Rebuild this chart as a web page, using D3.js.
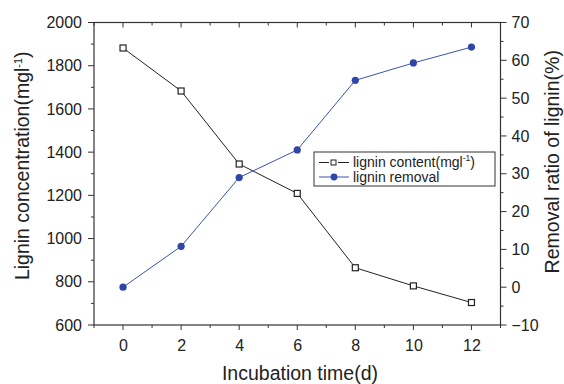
<!DOCTYPE html>
<html lang="en">
  <head>
    <meta charset="UTF-8" />
    <title>Lignin degradation</title>
    <script src="https://d3js.org/d3.v7.min.js"></script>
    <style>
      body {
        margin: 0;
        background: #fff;
        font-family: "Liberation Sans", Arial, sans-serif;
      }
      .axis text {
        font-size: 16px;
        fill: #222;
      }
      .title {
        font-size: 19.5px;
        fill: #222;
      }
      .legend text {
        font-size: 14px;
        fill: #222;
      }
    </style>
  </head>
  <body>
    <svg width="564" height="384"></svg>

    <script>
      const days = [0, 2, 4, 6, 8, 10, 12];
      const ligninContent = [1882, 1683, 1345, 1209, 865, 781, 704];
      const ligninRemoval = [0, 10.8, 29, 36.3, 54.7, 59.3, 63.5];
      const leftTicks = [600, 800, 1000, 1200, 1400, 1600, 1800, 2000];
      const rightTicks = [-10, 0, 10, 20, 30, 40, 50, 60, 70];

      const svg = d3.select("svg");
      const margin = { left: 94, right: 63.5, top: 22.5, bottom: 59 };
      const width = +svg.attr("width");
      const height = +svg.attr("height");

      const x = d3.scaleLinear().domain([-1, 13]).range([margin.left, width - margin.right]);
      const yL = d3.scaleLinear().domain([600, 2000]).range([height - margin.bottom, margin.top]);
      const yR = d3.scaleLinear().domain([-10, 70]).range([height - margin.bottom, margin.top]);

      const x0 = margin.left, x1 = width - margin.right;
      const y0 = height - margin.bottom, y1 = margin.top;

      // tick marks: majors longer, minors shorter
      const minorX = d3.range(-1, 14, 1);
      const minorL = d3.range(600, 2001, 100);
      const minorR = d3.range(-10, 71, 5);

      const g = svg.append("g").attr("stroke", "#333");
      g.selectAll(".mxb").data(minorX).enter().append("line")
        .attr("x1", (d) => x(d)).attr("x2", (d) => x(d))
        .attr("y1", y0).attr("y2", (d) => y0 + (d % 2 === 0 ? 5 : 3));
      g.selectAll(".mxt").data(minorX).enter().append("line")
        .attr("x1", (d) => x(d)).attr("x2", (d) => x(d))
        .attr("y1", y1).attr("y2", (d) => y1 + (d % 2 === 0 ? 5 : 3));
      g.selectAll(".myl").data(minorL).enter().append("line")
        .attr("x1", x0).attr("x2", (d) => x0 - (d % 200 === 0 ? 6 : 3))
        .attr("y1", (d) => yL(d)).attr("y2", (d) => yL(d));
      g.selectAll(".myr").data(minorR).enter().append("line")
        .attr("x1", x1).attr("x2", (d) => x1 + (d % 10 === 0 ? 6 : 3))
        .attr("y1", (d) => yR(d)).attr("y2", (d) => yR(d));

      // tick labels
      svg.append("g").attr("class", "axis")
        .attr("transform", `translate(0,${y0})`)
        .call(d3.axisBottom(x).tickValues(days).tickFormat(d3.format("d")).tickSize(0).tickPadding(15))
        .call((s) => s.select(".domain").remove());
      svg.append("g").attr("class", "axis")
        .attr("transform", `translate(${x0},0)`)
        .call(d3.axisLeft(yL).tickValues(leftTicks).tickFormat(d3.format("d")).tickSize(0).tickPadding(12))
        .call((s) => s.select(".domain").remove());
      svg.append("g").attr("class", "axis")
        .attr("transform", `translate(${x1},0)`)
        .call(d3.axisRight(yR).tickValues(rightTicks).tickFormat(d3.format("d")).tickSize(0).tickPadding(11))
        .call((s) => s.select(".domain").remove());

      // frame
      svg.append("rect")
        .attr("x", x0).attr("y", y1)
        .attr("width", x1 - x0).attr("height", y0 - y1)
        .attr("fill", "none").attr("stroke", "#333").attr("stroke-width", 1.2);

      // titles
      svg.append("text").attr("class", "title")
        .attr("x", 300).attr("y", 380)
        .attr("text-anchor", "middle").text("Incubation time(d)");

      const lt = svg.append("text").attr("class", "title")
        .attr("transform", `translate(29,${(y0 + y1) / 2 - 8}) rotate(-90)`)
        .attr("text-anchor", "middle");
      lt.append("tspan").text("Lignin concentration(mgl");
      lt.append("tspan").attr("dy", -7).style("font-size", "11px").text("-1");
      lt.append("tspan").attr("dy", 7).text(")");

      svg.append("text").attr("class", "title")
        .attr("transform", `translate(559,${(y0 + y1) / 2 - 12}) rotate(-90)`)
        .attr("text-anchor", "middle").text("Removal ratio of lignin(%)");

      // series
      const contentData = days.map((d, i) => ({ x: d, y: ligninContent[i] }));
      const removalData = days.map((d, i) => ({ x: d, y: ligninRemoval[i] }));

      svg.append("path").datum(contentData)
        .attr("fill", "none").attr("stroke", "#222").attr("stroke-width", 1)
        .attr("d", d3.line().x((d) => x(d.x)).y((d) => yL(d.y)));
      svg.append("path").datum(removalData)
        .attr("fill", "none").attr("stroke", "#3a52b0").attr("stroke-width", 1)
        .attr("d", d3.line().x((d) => x(d.x)).y((d) => yR(d.y)));

      svg.append("g").selectAll("rect").data(contentData).enter().append("rect")
        .attr("x", (d) => x(d.x) - 3).attr("y", (d) => yL(d.y) - 3)
        .attr("width", 6).attr("height", 6)
        .attr("fill", "#fff").attr("stroke", "#222").attr("stroke-width", 1.2);
      svg.append("g").selectAll("circle").data(removalData).enter().append("circle")
        .attr("cx", (d) => x(d.x)).attr("cy", (d) => yR(d.y)).attr("r", 3.6)
        .attr("fill", "#2f46a6");

      // legend
      const lg = svg.append("g").attr("class", "legend").attr("transform", "translate(314,152)");
      lg.append("rect").attr("width", 181).attr("height", 34)
        .attr("fill", "#fff").attr("stroke", "#333").attr("stroke-width", 1);
      lg.append("line").attr("x1", 5).attr("x2", 15).attr("y1", 10.5).attr("y2", 10.5).attr("stroke", "#222");
      lg.append("line").attr("x1", 24).attr("x2", 35).attr("y1", 10.5).attr("y2", 10.5).attr("stroke", "#222");
      lg.append("rect").attr("x", 17).attr("y", 8).attr("width", 5).attr("height", 5)
        .attr("fill", "#fff").attr("stroke", "#222");
      const t1 = lg.append("text").attr("x", 39).attr("y", 15);
      t1.append("tspan").text("lignin content(mgl");
      t1.append("tspan").attr("dy", -6).style("font-size", "8.5px").text("-1");
      t1.append("tspan").attr("dy", 6).text(")");
      lg.append("line").attr("x1", 5).attr("x2", 35).attr("y1", 25).attr("y2", 25).attr("stroke", "#3a52b0");
      lg.append("circle").attr("cx", 20).attr("cy", 25).attr("r", 3.4).attr("fill", "#2f46a6");
      lg.append("text").attr("x", 39).attr("y", 30).text("lignin removal");
    </script>
  </body>
</html>
